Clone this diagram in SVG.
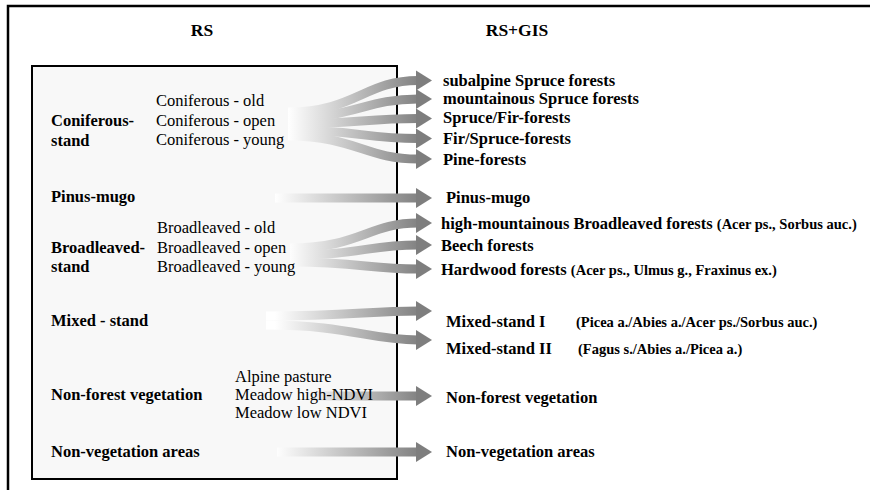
<svg xmlns="http://www.w3.org/2000/svg" width="880" height="490" viewBox="0 0 880 490">
<defs>
<linearGradient id="g1" gradientUnits="userSpaceOnUse" x1="288" y1="0" x2="418" y2="0"><stop offset="0" stop-color="#ffffff"/><stop offset="1" stop-color="#828282"/></linearGradient>
<linearGradient id="g2" gradientUnits="userSpaceOnUse" x1="275" y1="0" x2="418" y2="0"><stop offset="0" stop-color="#ffffff"/><stop offset="1" stop-color="#828282"/></linearGradient>
<linearGradient id="g3" gradientUnits="userSpaceOnUse" x1="300" y1="0" x2="418" y2="0"><stop offset="0" stop-color="#ffffff"/><stop offset="1" stop-color="#828282"/></linearGradient>
<style>
.t{font-family:"Liberation Serif","Times New Roman",serif;font-size:16.5px;fill:#000}
.b{font-weight:bold}
.h{font-family:"Liberation Serif","Times New Roman",serif;font-size:17.5px;font-weight:bold;fill:#000}
.s{font-family:"Liberation Serif","Times New Roman",serif;font-size:14.5px;font-weight:bold;fill:#000}
.sh{fill:none;stroke-width:9}
.hd{fill:#7e7e7e}
</style>
</defs>
<path d="M8,490 V6 H870" fill="none" stroke="#000" stroke-width="2.5"/>
<text class="h" x="202" y="36" text-anchor="middle">RS</text>
<text class="h" x="517" y="36" text-anchor="middle">RS+GIS</text>
<g id="rs-box">
<rect x="32" y="66" width="365" height="413" fill="#f8f8f8" stroke="#000" stroke-width="2"/>
</g>
<g id="connectors">
<g stroke="url(#g1)" class="sh">
<path d="M288,112 C355,112 365,80.5 418,80.5"/>
<path d="M288,118 C355,118 365,99 418,99"/>
<path d="M288,124 C355,124 365,118.5 418,118.5"/>
<path d="M288,130 C355,130 365,138.5 418,138.5"/>
<path d="M288,136 C355,136 365,159 418,159"/>
</g>
<path class="sh" stroke="url(#g2)" d="M275,198 H418"/>
<g stroke="url(#g1)" class="sh">
<path d="M290,248 C360,248 368,223 418,223"/>
<path d="M290,255 C360,255 368,245 418,245"/>
<path d="M290,262 C360,262 368,269 418,269"/>
</g>
<g stroke="url(#g2)" class="sh">
<path d="M266,316 C350,316 368,311 418,311"/>
<path d="M266,325 C350,325 368,340 418,340"/>
</g>
<path class="sh" stroke="url(#g3)" d="M300,396 H418"/>
<path class="sh" stroke="url(#g2)" d="M277,452 H418"/>
<g class="hd">
<polygon points="416,70.5 432,80.5 416,90.5"/>
<polygon points="416,89 432,99 416,109"/>
<polygon points="416,108.5 432,118.5 416,128.5"/>
<polygon points="416,128.5 432,138.5 416,148.5"/>
<polygon points="416,149 432,159 416,169"/>
<polygon points="416,188 432,198 416,208"/>
<polygon points="416,213 432,223 416,233"/>
<polygon points="416,235 432,245 416,255"/>
<polygon points="416,259 432,269 416,279"/>
<polygon points="416,301 432,311 416,321"/>
<polygon points="416,330 432,340 416,350"/>
<polygon points="416,386 432,396 416,406"/>
<polygon points="416,442 432,452 416,462"/>
</g>
</g>
<g id="left-coniferous">
<text class="t b" x="51" y="126">Coniferous-</text>
<text class="t b" x="51" y="146">stand</text>
<text class="t" x="156" y="106">Coniferous - old</text>
<text class="t" x="156" y="126">Coniferous - open</text>
<text class="t" x="156" y="145">Coniferous - young</text>
</g>
<g id="left-pinus"><text class="t b" x="51" y="202">Pinus-mugo</text></g>
<g id="left-broadleaved">
<text class="t b" x="51" y="253">Broadleaved-</text>
<text class="t b" x="51" y="272">stand</text>
<text class="t" x="157" y="233">Broadleaved - old</text>
<text class="t" x="157" y="253">Broadleaved - open</text>
<text class="t" x="157" y="272">Broadleaved - young</text>
</g>
<g id="left-mixed"><text class="t b" x="51" y="326">Mixed - stand</text></g>
<g id="left-nonforest">
<text class="t b" x="51" y="400">Non-forest vegetation</text>
<text class="t" x="235" y="382">Alpine pasture</text>
<text class="t" x="235" y="400">Meadow high-NDVI</text>
<text class="t" x="235" y="418">Meadow low NDVI</text>
</g>
<g id="left-nonveg"><text class="t b" x="51" y="457">Non-vegetation areas</text></g>
<g id="right-coniferous">
<text class="t b" x="443" y="86">subalpine Spruce forests</text>
<text class="t b" x="443" y="104">mountainous Spruce forests</text>
<text class="t b" x="443" y="123">Spruce/Fir-forests</text>
<text class="t b" x="443" y="144">Fir/Spruce-forests</text>
<text class="t b" x="443" y="165">Pine-forests</text>
</g>
<g id="right-pinus"><text class="t b" x="446" y="203">Pinus-mugo</text></g>
<g id="right-broadleaved">
<text class="t b" x="441" y="229">high-mountainous Broadleaved forests <tspan class="s">(Acer ps., Sorbus auc.)</tspan></text>
<text class="t b" x="441" y="251">Beech forests</text>
<text class="t b" x="441" y="275">Hardwood forests <tspan class="s">(Acer ps., Ulmus g., Fraxinus ex.)</tspan></text>
</g>
<g id="right-mixed">
<text class="t b" x="446" y="327">Mixed-stand I</text>
<text class="s" x="576" y="327">(Picea a./Abies a./Acer ps./Sorbus auc.)</text>
<text class="t b" x="446" y="354">Mixed-stand II</text>
<text class="s" x="578" y="354">(Fagus s./Abies a./Picea a.)</text>
</g>
<g id="right-nonforest"><text class="t b" x="446" y="403">Non-forest vegetation</text></g>
<g id="right-nonveg"><text class="t b" x="446" y="457">Non-vegetation areas</text></g>
</svg>
